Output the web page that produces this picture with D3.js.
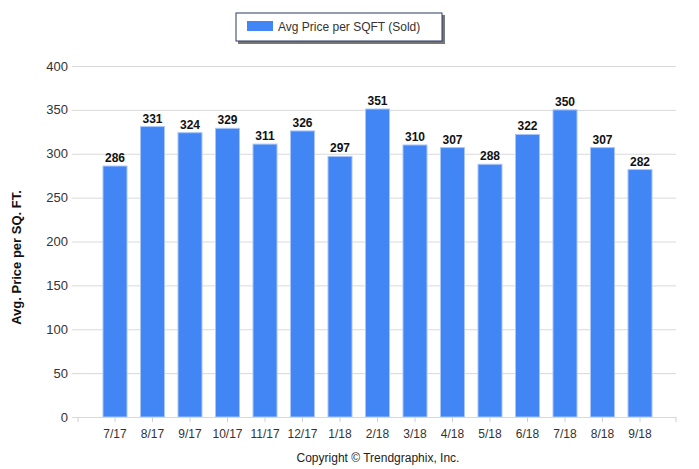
<!DOCTYPE html>
<html>
<head>
<meta charset="utf-8">
<script src="https://cdn.jsdelivr.net/npm/d3@7"></script>
<style>
  body { margin: 0; background: #fff; }
  svg text { font-family: "Liberation Sans", Arial, sans-serif; }
</style>
</head>
<body>
<svg id="chart" width="699" height="469"></svg>
<script>
var months = ["7/17", "8/17", "9/17", "10/17", "11/17", "12/17", "1/18", "2/18", "3/18", "4/18", "5/18", "6/18", "7/18", "8/18", "9/18"];
var prices = [286, 331, 324, 329, 311, 326, 297, 351, 310, 307, 288, 322, 350, 307, 282];
var yTicks = [0, 50, 100, 150, 200, 250, 300, 350, 400];
var seriesName = "Avg Price per SQFT (Sold)";

var svg = d3.select("#chart");
var plotLeft = 78, plotRight = 676, plotTop = 66, plotBottom = 417;

var x = d3.scaleBand().domain(months).range([96.25, 658.75])
    .paddingInner(0.36).paddingOuter(0.18);
var y = d3.scaleLinear().domain([0, 400]).range([plotBottom, plotTop]);

// gridlines
svg.append("g").selectAll("line").data(yTicks).enter().append("line")
    .attr("x1", plotLeft - 6).attr("x2", plotRight)
    .attr("y1", d => y(d) + 0.5).attr("y2", d => y(d) + 0.5)
    .attr("stroke", "#d9d9d9").attr("stroke-width", 1);

// y tick labels
svg.append("g").selectAll("text").data(yTicks).enter().append("text")
    .attr("x", plotLeft - 10).attr("y", d => y(d)).attr("dy", "0.35em")
    .attr("text-anchor", "end").attr("font-size", 13).attr("fill", "#333")
    .text(d => d);

// bars
svg.append("g").selectAll("rect").data(prices).enter().append("rect")
    .attr("x", (d, i) => x(months[i]))
    .attr("y", d => y(d))
    .attr("width", x.bandwidth())
    .attr("height", d => y(0) - y(d))
    .attr("fill", "#4285f4")
    .attr("stroke", "#a9c6f7").attr("stroke-width", 1);

// value labels
svg.append("g").selectAll("text").data(prices).enter().append("text")
    .attr("x", (d, i) => x(months[i]) + x.bandwidth() / 2)
    .attr("y", d => y(d) - 4)
    .attr("text-anchor", "middle").attr("font-size", 12).attr("font-weight", "bold")
    .attr("fill", "#111")
    .text(d => d);

// x axis line and ticks
svg.append("line").attr("x1", plotLeft).attr("x2", plotRight)
    .attr("y1", plotBottom + 0.5).attr("y2", plotBottom + 0.5)
    .attr("stroke", "#d9d9d9");
var tickXs = [plotLeft].concat(months.map(m => x(m) + x.bandwidth() / 2)).concat([plotRight]);
svg.append("g").selectAll("line").data(tickXs).enter().append("line")
    .attr("x1", d => d).attr("x2", d => d)
    .attr("y1", plotBottom).attr("y2", plotBottom + 5)
    .attr("stroke", "#d0d0d0");
svg.append("g").selectAll("text").data(months).enter().append("text")
    .attr("x", d => x(d) + x.bandwidth() / 2).attr("y", 438)
    .attr("text-anchor", "middle").attr("font-size", 12).attr("fill", "#333")
    .text(d => d);

// y axis title
svg.append("text")
    .attr("transform", "translate(21," + ((plotTop + plotBottom) / 2 + 16) + ") rotate(-90)")
    .attr("text-anchor", "middle").attr("font-size", 13).attr("font-weight", "bold")
    .attr("fill", "#111")
    .text("Avg. Price per SQ. FT.");

// legend
var lg = svg.append("g");
lg.append("rect").attr("x", 238).attr("y", 15).attr("width", 207).attr("height", 29)
    .attr("fill", "#777");
lg.append("rect").attr("x", 236).attr("y", 13).attr("width", 206).attr("height", 28)
    .attr("fill", "#fff").attr("stroke", "#2b3a67").attr("stroke-width", 1);
lg.append("rect").attr("x", 247).attr("y", 21).attr("width", 26).attr("height", 10)
    .attr("fill", "#4285f4");
lg.append("text").attr("x", 278).attr("y", 27).attr("dy", "0.35em")
    .attr("font-size", 12).attr("fill", "#333").text(seriesName);

// copyright
svg.append("text").attr("x", 378).attr("y", 458).attr("dy", "0.35em")
    .attr("text-anchor", "middle").attr("font-size", 12).attr("fill", "#222")
    .text("Copyright \u00a9 Trendgraphix, Inc.");
</script>
</body>
</html>
